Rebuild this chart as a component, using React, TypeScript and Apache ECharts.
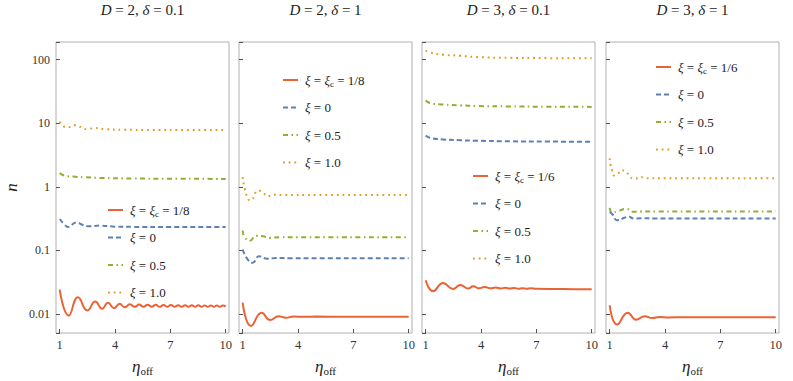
import React, { useEffect, useRef } from "react";
import * as echarts from "echarts";

// ---------- data ----------
const X_TICKS = [1, 4, 7, 10];
const Y_TICK_LABELS: Record<string, string> = { "-2": "0.01", "-1": "0.1", "0": "1", "1": "10", "2": "100" };

const PANEL_TITLES = [
  "{i|D}{n| = 2, }{i|δ}{n| = 0.1}",
  "{i|D}{n| = 2, }{i|δ}{n| = 1}",
  "{i|D}{n| = 3, }{i|δ}{n| = 0.1}",
  "{i|D}{n| = 3, }{i|δ}{n| = 1}",
];
const CRIT_NAMES = ["ξ = ξc = 1/8", "ξ = ξc = 1/8", "ξ = ξc = 1/6", "ξ = ξc = 1/6"];
const OTHER_NAMES = ["ξ = 0", "ξ = 0.5", "ξ = 1.0"];

// Panel 1: D = 2, δ = 0.1
const d2d01Crit = [[1, 0.0241], [1.49, 0.0094], [1.99, 0.0183], [2.5, 0.0113], [2.93, 0.0156], [3.3, 0.012], [3.62, 0.0149], [3.95, 0.0123], [4.25, 0.0144], [4.53, 0.0127], [4.8, 0.0142], [5.07, 0.0129], [5.31, 0.014], [5.54, 0.0129], [5.77, 0.0139], [5.99, 0.0129], [6.21, 0.0139], [6.42, 0.0129], [6.63, 0.0138], [6.83, 0.0129], [7.03, 0.0138], [7.23, 0.0129], [7.42, 0.0137], [7.61, 0.0129], [7.8, 0.0137], [7.98, 0.0129], [8.16, 0.0137], [8.34, 0.0129], [8.52, 0.0137], [8.69, 0.0129], [8.86, 0.0136], [9.03, 0.0129], [9.2, 0.0136], [9.36, 0.0129], [9.52, 0.0136], [9.68, 0.0129], [9.84, 0.0136], [10, 0.013]];
const d2d01Xi0 = [[1, 0.311], [1.27, 0.253], [1.45, 0.233], [1.65, 0.252], [1.9, 0.275], [2.27, 0.251], [2.63, 0.239], [3.17, 0.245], [4, 0.236], [5, 0.234], [7, 0.233], [10, 0.233]];
const d2d01Xi05 = [[1, 1.64], [1.27, 1.5], [1.72, 1.45], [2.4, 1.41], [3.17, 1.38], [5, 1.35], [7, 1.34], [10, 1.33]];
const d2d01Xi1 = [[1, 10.6], [1.18, 9.05], [1.45, 8.63], [1.81, 9.28], [2.18, 8.63], [2.48, 8.04], [2.9, 8.42], [3.5, 8.04], [4.5, 7.9], [6, 7.85], [8, 7.84], [10, 7.84]];

// Panel 2: D = 2, δ = 1
const d2d1Crit = [[1, 0.015], [1.45, 0.00645], [2.03, 0.0104], [2.49, 0.008], [2.95, 0.0092], [3.35, 0.0087], [3.75, 0.0091], [4.3, 0.00898], [5, 0.00906], [6.5, 0.00902], [8, 0.00904], [10, 0.00904]];
const d2d1Xi0 = [[1, 0.103], [1.25, 0.0734], [1.53, 0.0636], [1.89, 0.0807], [2.34, 0.0734], [2.8, 0.076], [3.5, 0.075], [5, 0.0751], [10, 0.0751]];
const d2d1Xi05 = [[1, 0.206], [1.11, 0.16], [1.4, 0.142], [1.71, 0.17], [2.1, 0.166], [2.46, 0.157], [3, 0.161], [4, 0.16], [10, 0.16]];
const d2d1Xi1 = [[1, 1.42], [1.11, 0.93], [1.3, 0.64], [1.42, 0.61], [1.53, 0.63], [1.65, 0.77], [1.83, 0.875], [2.12, 0.795], [2.34, 0.705], [2.65, 0.75], [3.2, 0.74], [5, 0.74], [10, 0.74]];

// Panel 3: D = 3, δ = 0.1
const d3d01Crit = [[1, 0.0338], [1.4, 0.0227], [1.94, 0.0307], [2.48, 0.0247], [2.88, 0.0285], [3.3, 0.025], [3.57, 0.0272], [3.89, 0.0253], [4.2, 0.0265], [4.51, 0.0252], [4.8, 0.026], [5.07, 0.0251], [5.32, 0.0257], [5.56, 0.025], [5.8, 0.0255], [6.03, 0.0249], [6.26, 0.0253], [6.48, 0.0249], [6.7, 0.0252], [7, 0.0248], [8, 0.0246], [9, 0.0245], [10, 0.0244]];
const d3d01Xi0 = [[1, 6.43], [1.22, 5.92], [1.94, 5.56], [2.9, 5.4], [3.76, 5.3], [5.57, 5.2], [7.5, 5.15], [10, 5.12]];
const d3d01Xi05 = [[1, 22.8], [1.22, 20.9], [1.94, 19.7], [2.9, 19.1], [3.76, 18.7], [5.57, 18.4], [7.5, 18.2], [10, 18.1]];
const d3d01Xi1 = [[1, 140], [1.22, 130], [1.94, 120], [2.85, 115.6], [3.76, 110], [5.57, 107], [7.5, 106], [10, 105]];

// Panel 4: D = 3, δ = 1
const d3d1Crit = [[1, 0.0136], [1.4, 0.0068], [1.98, 0.0104], [2.43, 0.0081], [2.9, 0.0092], [3.3, 0.0086], [3.7, 0.0089], [4.2, 0.00876], [5, 0.00886], [7, 0.00882], [10, 0.00884]];
const d3d1Xi0 = [[1, 0.398], [1.16, 0.366], [1.4, 0.298], [1.8, 0.325], [1.99, 0.344], [2.3, 0.316], [2.7, 0.32], [3.5, 0.317], [10, 0.316]];
const d3d1Xi05 = [[1, 0.467], [1.13, 0.389], [1.5, 0.42], [1.9, 0.45], [2.27, 0.404], [2.7, 0.41], [3.5, 0.408], [10, 0.408]];
const d3d1Xi1 = [[1, 2.8], [1.05, 2.19], [1.13, 1.81], [1.22, 1.51], [1.43, 1.58], [1.63, 1.83], [1.91, 1.7], [2.08, 1.44], [2.39, 1.34], [2.66, 1.44], [2.9, 1.37], [4, 1.36], [10, 1.36]];

const PANEL_DATA = [
  [d2d01Crit, d2d01Xi0, d2d01Xi05, d2d01Xi1],
  [d2d1Crit, d2d1Xi0, d2d1Xi05, d2d1Xi1],
  [d3d01Crit, d3d01Xi0, d3d01Xi05, d3d01Xi1],
  [d3d1Crit, d3d1Xi0, d3d1Xi05, d3d1Xi1],
];

// ---------- styles ----------
const SERIF = "Liberation Serif";
const COLORS = ["#EB6235", "#5E81B5", "#8FB031", "#E19C24"];
const DASHES: any[] = ["solid", [5, 3], [5, 3.5, 1.5, 3.5], [1.8, 3.9]];
const FRAME = "#b0b0b0";
const GRID_LEFTS = [56, 239, 422, 606];
const GRID_W = 173;
const GRID_TOP = 42;
const GRID_H = 292;
const LEGEND_POS = [
  { left: 107, top: 202 },
  { left: 282, top: 72 },
  { left: 472, top: 168 },
  { left: 655, top: 59 },
];

const richText = (size: number, subSize: number, lh: number) => ({
  i: { fontStyle: "italic", fontFamily: SERIF, fontSize: size, color: "#222", lineHeight: lh },
  s: { fontFamily: SERIF, fontSize: subSize, color: "#222", verticalAlign: "bottom", lineHeight: Math.round(lh * 0.62) },
  n: { fontFamily: SERIF, fontSize: size, color: "#222", lineHeight: lh },
});

const legendLabel = (name: string) => {
  if (name.startsWith("ξ = ξc")) return "{i|ξ}{n| = }{i|ξ}{s|c}{n|" + name.slice(6) + "}";
  return "{i|ξ}{n|" + name.slice(1) + "}";
};

export default function App() {
  const ref = useRef<HTMLDivElement>(null);
  useEffect(() => {
    if (!ref.current) return;
    const chart = echarts.init(ref.current, null, { renderer: "svg", width: 793, height: 381 });

    const grids = GRID_LEFTS.map((l) => ({
      left: l, top: GRID_TOP, width: GRID_W, height: GRID_H,
      show: true, borderColor: FRAME, borderWidth: 1, containLabel: false,
    }));

    const xAxes = GRID_LEFTS.map((_, i) => ({
      type: "value", gridIndex: i, min: 0.8, max: 10.18,
      axisLine: { show: false },
      splitLine: { show: false },
      axisTick: { show: true, inside: true, length: 4, customValues: X_TICKS, lineStyle: { color: "#555" } },
      axisLabel: { customValues: X_TICKS, fontFamily: SERIF, fontSize: 12.5, color: "#333", margin: 5 },
      name: "{i|η}{s|off}", nameLocation: "middle", nameGap: 23,
      nameTextStyle: { fontFamily: SERIF, rich: richText(17, 11, 20) },
    }));

    const yAxes = GRID_LEFTS.map((_, i) => ({
      type: "log", gridIndex: i, min: 0.005, max: 190, logBase: 10,
      axisLine: { show: false },
      splitLine: { show: false },
      axisTick: { show: true, inside: true, length: 4, lineStyle: { color: "#555" } },
      axisLabel: {
        show: i === 0, fontFamily: SERIF, fontSize: 12, color: "#333", margin: 6,
        formatter: (v: number) => {
          const e = Math.log10(v);
          const r = Math.round(e);
          return Math.abs(e - r) < 1e-6 ? Y_TICK_LABELS[String(r)] || "" : "";
        },
      },
      name: i === 0 ? "n" : "", nameLocation: "middle", nameRotate: 90, nameGap: 36,
      nameTextStyle: { fontFamily: SERIF, fontStyle: "italic", fontSize: 17, color: "#222" },
    }));

    const series: any[] = [];
    PANEL_DATA.forEach((set, p) => {
      set.forEach((data, k) => {
        series.push({
          type: "line",
          name: k === 0 ? CRIT_NAMES[p] : OTHER_NAMES[k - 1],
          xAxisIndex: p, yAxisIndex: p,
          data, symbol: "none", smooth: 0.5,
          lineStyle: { color: COLORS[k], width: 2, type: DASHES[k], cap: "butt" },
          itemStyle: { color: COLORS[k] },
          z: 10 - k,
        });
      });
    });

    const legends = LEGEND_POS.map((pos, p) => ({
      orient: "vertical", left: pos.left, top: pos.top, padding: 0,
      itemWidth: 15, itemHeight: 10, itemGap: 11.5,
      selectedMode: false,
      data: [CRIT_NAMES[p], ...OTHER_NAMES],
      itemStyle: { opacity: 0 },
      formatter: legendLabel,
      textStyle: { fontFamily: SERIF, fontSize: 13, color: "#222", lineHeight: 16, rich: richText(13, 9, 16), padding: [0, 0, 0, 2] },
    }));

    const titles = PANEL_TITLES.map((t, p) => ({
      type: "text",
      x: GRID_LEFTS[p] + GRID_W / 2, y: 10,
      style: {
        text: t, align: "center", verticalAlign: "middle",
        fontFamily: SERIF, fontSize: 15, fill: "#222",
        rich: {
          i: { fontStyle: "italic", fontFamily: SERIF, fontSize: 15, fill: "#222" },
          n: { fontFamily: SERIF, fontSize: 15, fill: "#222" },
        },
      },
    }));

    chart.setOption({
      animation: false,
      backgroundColor: "#ffffff",
      textStyle: { fontFamily: SERIF },
      grid: grids,
      xAxis: xAxes,
      yAxis: yAxes,
      legend: legends,
      series,
      graphic: titles,
    });
    return () => chart.dispose();
  }, []);

  return (
    <div
      ref={ref}
      style={{ position: "fixed", left: 0, top: 0, width: 793, height: 381, background: "#fff" }}
    />
  );
}
